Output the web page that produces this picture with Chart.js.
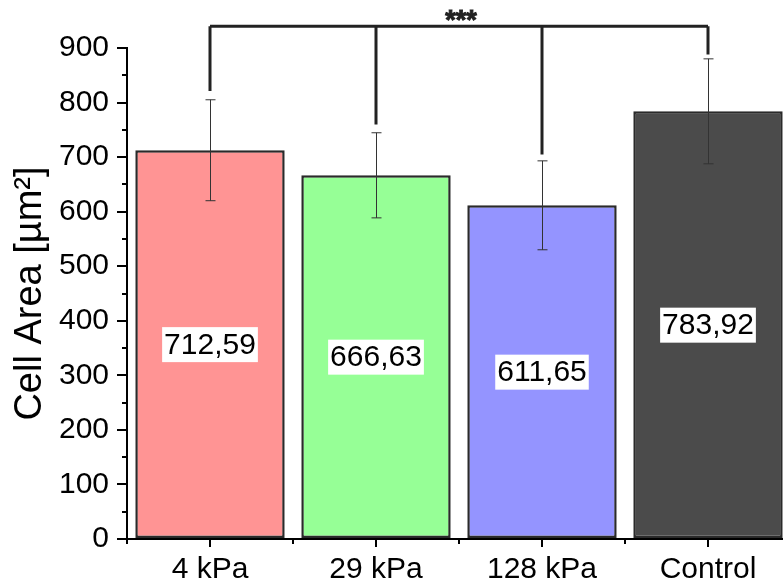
<!DOCTYPE html>
<html>
<head>
<meta charset="utf-8">
<script src="https://cdn.jsdelivr.net/npm/chart.js@4.4.0/dist/chart.umd.min.js"></script>
<style>
  html, body { margin: 0; padding: 0; background: #fff; overflow: hidden; }
  canvas { display: block; }
</style>
</head>
<body>
<canvas id="chartCellArea" width="800" height="588"></canvas>
<script>
// DỮ LIỆU
const categories = ['4 kPa', '29 kPa', '128 kPa', 'Control'];
const meanArea = [712.59, 666.63, 611.65, 783.92];
const sdArea = [92.5, 78, 81.5, 96.2];
const barColors = ['#ff9494', '#96ff96', '#9494ff', '#4b4b4b'];
const yTickValues = [0, 100, 200, 300, 400, 500, 600, 700, 800, 900];
const yMinorTicks = [50, 150, 250, 350, 450, 550, 650, 750, 850];
const bracketLevel = 940;
const bracketLegEnds = [821, 760, 705, 888];
const bracketLabel = '***';

const FONT = "'Liberation Sans', Arial, sans-serif";

// VẼ THÊM: vạch phụ, thanh sai số, nhãn giá trị, ngoặc ý nghĩa
const decorPlugin = {
    id: 'decor',
    afterDatasetsDraw(chart) {
        const { ctx, scales: { x, y } } = chart;
        ctx.save();

        // vạch phụ trục y
        ctx.strokeStyle = '#000';
        ctx.lineWidth = 2;
        yMinorTicks.forEach(v => {
            const py = Math.round(y.getPixelForValue(v));
            ctx.beginPath();
            ctx.moveTo(x.left - 5, py);
            ctx.lineTo(x.left, py);
            ctx.stroke();
        });

        // vạch phụ trục x (ranh giới nhóm)
        const bounds = [x.left];
        for (let i = 0; i < categories.length - 1; i++) {
            bounds.push((x.getPixelForValue(i) + x.getPixelForValue(i + 1)) / 2);
        }
        bounds.forEach(px => {
            ctx.beginPath();
            ctx.moveTo(Math.round(px), y.bottom);
            ctx.lineTo(Math.round(px), y.bottom + 5);
            ctx.stroke();
        });

        // thanh sai số
        ctx.strokeStyle = '#333';
        ctx.lineWidth = 1;
        meanArea.forEach((m, i) => {
            const px = Math.round(x.getPixelForValue(i)) + 0.5;
            const top = y.getPixelForValue(m + sdArea[i]);
            const bot = y.getPixelForValue(m - sdArea[i]);
            ctx.beginPath();
            ctx.moveTo(px, top); ctx.lineTo(px, bot);
            ctx.moveTo(px - 5, top); ctx.lineTo(px + 5, top);
            ctx.moveTo(px - 5, bot); ctx.lineTo(px + 5, bot);
            ctx.stroke();
        });

        // nhãn giá trị ở giữa cột
        ctx.font = '30px ' + FONT;
        ctx.textAlign = 'center';
        ctx.textBaseline = 'middle';
        meanArea.forEach((m, i) => {
            const txt = m.toFixed(2).replace('.', ',');
            const px = x.getPixelForValue(i);
            const py = y.getPixelForValue(m / 2);
            const w = ctx.measureText(txt).width + 4;
            ctx.fillStyle = '#fff';
            ctx.fillRect(px - w / 2, py - 17.5, w, 35);
            ctx.fillStyle = '#000';
            ctx.fillText(txt, px, py + 1);
        });

        // ngoặc ý nghĩa thống kê
        const by = y.getPixelForValue(bracketLevel);
        const xs = categories.map((c, i) => x.getPixelForValue(i));
        ctx.strokeStyle = '#222';
        ctx.lineWidth = 3;
        ctx.beginPath();
        ctx.moveTo(xs[0], by);
        ctx.lineTo(xs[xs.length - 1], by);
        xs.forEach((px, i) => {
            ctx.moveTo(px, by);
            ctx.lineTo(px, y.getPixelForValue(bracketLegEnds[i]));
        });
        ctx.stroke();

        ctx.fillStyle = '#222';
        ctx.strokeStyle = '#222';
        ctx.lineWidth = 1;
        ctx.font = 'bold 27px ' + FONT;
        ctx.textBaseline = 'alphabetic';
        const sx = (xs[0] + xs[xs.length - 1]) / 2 + 2;
        ctx.fillText(bracketLabel, sx, by + 3);
        ctx.strokeText(bracketLabel, sx, by + 3);

        ctx.restore();
    }
};

// BIỂU ĐỒ CỘT: DIỆN TÍCH TẾ BÀO
const el = document.getElementById('chartCellArea');

new Chart(el, {
    type: 'bar',
    data: {
        labels: categories,
        datasets: [{
            data: meanArea,
            backgroundColor: barColors,
            borderColor: '#2a2a2a',
            borderWidth: 2.5,
            borderSkipped: false,
            barPercentage: 0.9,
            categoryPercentage: 1
        }]
    },
    options: {
        responsive: false,
        animation: false,
        layout: { padding: { top: 48, right: 9, left: 0, bottom: 0 } },
        plugins: {
            legend: { display: false },
            tooltip: { enabled: false }
        },
        scales: {
            x: {
                offset: true,
                grid: { offset: false, drawOnChartArea: false, tickLength: 8, color: '#000', lineWidth: 2 },
                border: { color: '#000', width: 2 },
                ticks: { color: '#000', font: { family: FONT, size: 30 }, padding: 5, maxRotation: 0 },
                afterFit: s => { s.height = 49; }
            },
            y: {
                min: 0,
                max: 900,
                afterBuildTicks: s => { s.ticks = yTickValues.map(v => ({ value: v })); },
                grid: { drawOnChartArea: false, tickLength: 10, color: '#000', lineWidth: 2 },
                border: { color: '#000', width: 2 },
                ticks: { color: '#000', font: { family: FONT, size: 30 }, padding: 8 },
                title: {
                    display: true,
                    text: 'Cell Area [µm²]',
                    color: '#000',
                    font: { family: FONT, size: 38 },
                    padding: { top: 8, bottom: 0 }
                },
                afterFit: s => { s.width = 127; }
            }
        }
    },
    plugins: [decorPlugin]
});
</script>
</body>
</html>
